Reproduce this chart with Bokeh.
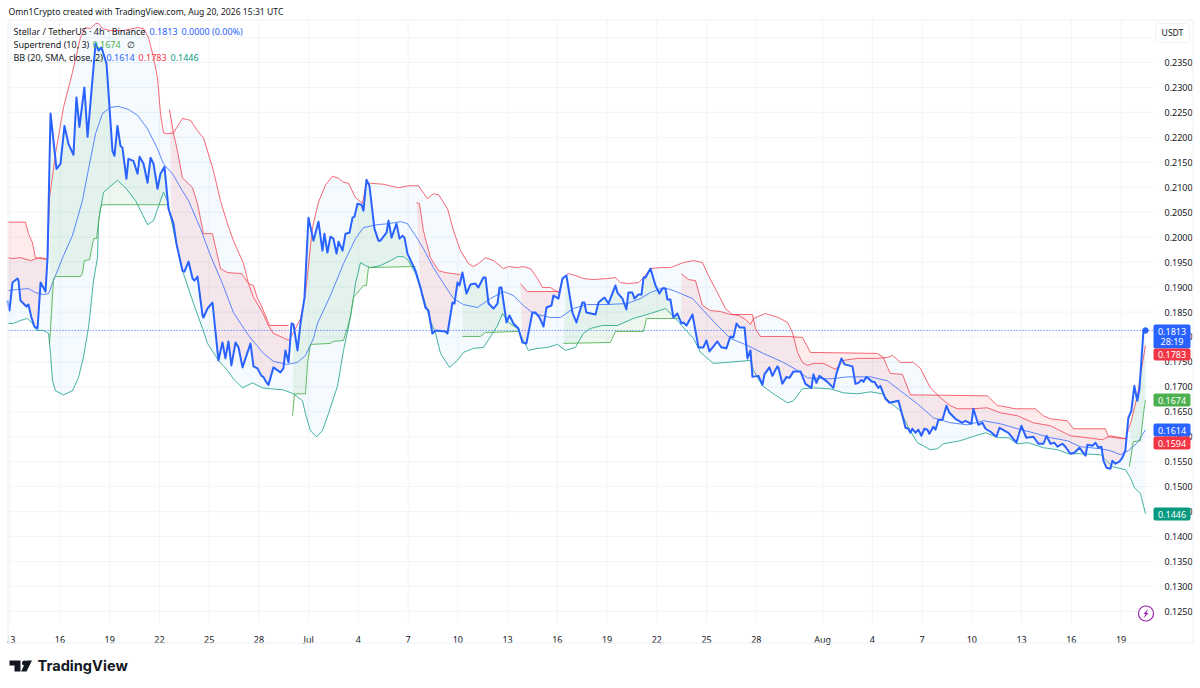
from bokeh.plotting import figure
from bokeh.embed import file_html
from bokeh.resources import INLINE
from bokeh.models import Range1d, FixedTicker, NumeralTickFormatter, Label, BoxAnnotation, PolyAnnotation

# time axis: days since 13 Jun; price in USDT
tick_days = [0, 3, 6, 9, 12, 15, 18, 21, 24, 27, 30, 33, 36, 39, 42, 45, 49, 52, 55, 58, 61, 64, 67]
x_labels = ["13", "16", "19", "22", "25", "28", "Jul", "4", "7", "10", "13", "16", "19", "22", "25", "28",
            "Aug", "4", "7", "10", "13", "16", "19"]
y_ticks = [0.125, 0.13, 0.135, 0.14, 0.145, 0.15, 0.155, 0.16, 0.165, 0.17, 0.175, 0.18, 0.185, 0.19, 0.195,
           0.2, 0.205, 0.21, 0.215, 0.22, 0.225, 0.23, 0.235, 0.24]

price_d = [-0.18,-0.06,0.12,0.42,0.48,0.60,0.78,0.96,1.08,1.26,1.44,1.63,1.81,2.11,2.23,2.41,2.77,3.01,3.25,3.49,3.79,3.97,4.15,4.45,4.64,5.12,5.30,5.48,5.78,6.14,6.26,6.44,6.62,6.74,6.98,7.10,7.40,7.65,7.77,8.01,8.25,8.43,8.61,8.85,9.03,9.27,9.51,9.69,9.81,9.99,10.35,10.47,10.72,10.96,11.08,11.26,11.56,11.62,11.86,12.16,12.52,12.76,12.94,13.12,13.30,13.55,13.73,13.97,14.45,14.63,14.87,15.11,15.23,15.35,15.53,15.83,16.25,16.43,16.55,16.74,16.92,17.04,17.28,17.46,17.70,17.94,18.24,18.54,18.78,18.90,19.08,19.26,19.44,19.63,19.75,19.99,20.17,20.41,20.59,20.71,20.89,21.13,21.25,21.43,21.61,21.91,22.15,22.27,22.64,22.76,22.94,23.24,23.42,23.60,23.72,23.90,24.38,24.68,24.98,25.16,25.40,25.59,26.19,26.31,26.61,26.73,26.91,27.03,27.21,27.45,27.69,27.99,28.17,28.47,28.60,28.78,29.08,29.32,29.44,29.56,29.86,30.04,30.28,30.58,30.82,31.06,31.42,31.60,31.85,32.09,32.27,32.57,32.69,32.99,33.23,33.47,33.83,34.07,34.43,34.55,34.67,35.22,35.40,35.76,36.00,36.42,36.54,36.84,37.08,37.20,37.44,37.56,37.81,37.99,38.11,38.23,38.53,38.83,39.07,39.25,39.43,39.55,39.73,39.91,40.15,40.39,40.51,40.70,41.06,41.42,41.72,41.90,42.08,42.56,42.80,42.92,43.10,43.34,43.52,43.71,43.89,44.19,44.37,44.55,44.67,45.03,45.27,45.39,45.69,45.87,46.17,46.23,46.47,46.72,46.90,47.14,47.56,47.86,48.22,48.34,48.52,48.70,49.18,49.54,49.73,50.03,50.21,50.69,50.87,51.05,51.23,51.35,51.53,51.89,52.01,52.25,52.37,52.68,52.92,53.46,53.70,53.88,54.06,54.18,54.30,54.48,54.66,54.84,55.02,55.20,55.32,55.56,55.69,55.87,56.11,56.35,56.53,56.89,57.31,57.49,57.85,57.97,58.27,58.51,58.70,59.00,59.36,59.54,60.08,60.56,60.86,61.16,61.58,61.89,62.19,62.37,62.61,62.85,63.03,63.33,63.51,63.81,64.05,64.35,64.72,64.84,65.14,65.32,65.50,65.68,65.80,65.98,66.22,66.34,66.52,66.76,66.94,67.12,67.30,67.48,67.66,67.84,67.97,68.21,68.33]
price_v = [.1873,.1853,.1909,.1917,.1913,.1873,.1867,.1861,.1865,.1839,.1821,.1817,.1909,.1891,.1959,.2248,.2137,.2147,.2223,.2187,.2165,.2280,.2221,.2300,.2201,.2388,.2374,.2380,.2348,.2173,.2163,.2223,.2183,.2179,.2117,.2157,.2153,.2127,.2161,.2147,.2109,.2159,.2147,.2097,.2127,.2141,.2057,.2039,.2027,.1987,.1933,.1931,.1951,.1917,.1913,.1921,.1843,.1839,.1857,.1869,.1753,.1789,.1757,.1791,.1743,.1789,.1779,.1739,.1787,.1741,.1737,.1722,.1720,.1712,.1704,.1739,.1729,.1737,.1773,.1749,.1827,.1825,.1773,.1827,.1879,.2039,.1993,.2031,.1973,.2007,.1969,.2001,.1997,.1967,.1991,.1973,.2007,.2009,.2039,.2041,.2067,.2065,.2053,.2115,.2103,.2017,.1993,.1993,.2009,.2033,.1999,.2027,.1997,.2003,.1999,.1967,.1933,.1899,.1859,.1853,.1807,.1813,.1811,.1807,.1869,.1867,.1909,.1903,.1929,.1887,.1905,.1907,.1899,.1919,.1919,.1867,.1857,.1867,.1899,.1899,.1829,.1843,.1827,.1817,.1789,.1787,.1849,.1849,.1839,.1821,.1859,.1863,.1883,.1877,.1917,.1923,.1849,.1829,.1869,.1869,.1849,.1845,.1869,.1879,.1867,.1903,.1889,.1877,.1855,.1889,.1889,.1877,.1885,.1885,.1919,.1919,.1937,.1903,.1887,.1897,.1897,.1875,.1875,.1839,.1847,.1827,.1829,.1823,.1845,.1779,.1779,.1793,.1771,.1791,.1779,.1779,.1777,.1801,.1799,.1827,.1819,.1819,.1757,.1773,.1720,.1722,.1704,.1725,.1739,.1722,.1741,.1739,.1706,.1720,.1718,.1731,.1731,.1706,.1698,.1725,.1708,.1722,.1710,.1698,.1727,.1757,.1745,.1741,.1706,.1708,.1714,.1710,.1720,.1710,.1710,.1698,.1702,.1676,.1668,.1672,.1642,.1618,.1616,.1608,.1616,.1608,.1614,.1602,.1616,.1614,.1606,.1620,.1614,.1634,.1634,.1662,.1648,.1636,.1628,.1632,.1626,.1656,.1624,.1628,.1616,.1610,.1600,.1618,.1608,.1588,.1622,.1598,.1600,.1586,.1586,.1602,.1586,.1588,.1580,.1586,.1580,.1566,.1568,.1578,.1562,.1584,.1582,.1588,.1578,.1580,.1552,.1538,.1536,.1552,.1546,.1550,.1558,.1572,.1638,.1652,.1702,.1672,.1696,.1813,.1813]

upper_d = [-0.18,0.12,0.60,1.20,1.75,2.23,2.35,2.71,3.19,3.73,4.21,4.52,4.82,5.12,5.30,5.54,6.02,6.80,7.65,8.01,8.31,8.61,8.85,9.03,9.21,9.45,9.81,10.35,10.84,11.26,11.62,12.22,12.64,13.06,13.42,14.03,14.33,14.63,15.17,15.53,15.83,16.37,16.74,17.04,17.46,17.76,18.18,18.54,18.96,19.38,19.75,20.05,20.35,20.77,21.19,21.43,21.67,22.45,23.36,23.96,24.56,25.10,25.46,25.77,26.31,26.67,27.09,27.57,27.87,28.17,28.60,29.08,29.68,29.98,30.52,30.88,31.30,31.73,32.03,32.51,32.99,33.29,33.59,34.01,34.49,35.10,35.94,36.42,36.72,37.20,37.81,38.11,38.53,39.13,39.73,40.51,41.12,41.66,42.02,42.56,43.04,43.46,43.83,44.25,44.55,44.73,45.45,46.23,46.78,47.08,47.38,47.68,47.98,48.34,48.94,49.67,50.15,50.99,52.19,52.80,53.10,53.58,54.36,54.78,55.38,55.99,56.59,57.01,57.79,58.82,59.60,60.62,61.58,62.61,63.81,64.84,65.74,66.22,67.12,67.48,67.84,68.03,68.33]
upper_v = [.1959,.1957,.1959,.1953,.1959,.1957,.2079,.2167,.2260,.2330,.2400,.2420,.2418,.2428,.2428,.2418,.2414,.2414,.2420,.2418,.2400,.2360,.2320,.2248,.2209,.2207,.2209,.2238,.2234,.2213,.2199,.2133,.2073,.2027,.1993,.1947,.1907,.1879,.1849,.1823,.1807,.1799,.1793,.1809,.1837,.1887,.2019,.2070,.2104,.2122,.2118,.2110,.2108,.2079,.2068,.2108,.2108,.2106,.2099,.2103,.2103,.2077,.2087,.2085,.2057,.2013,.1973,.1947,.1941,.1947,.1959,.1953,.1937,.1941,.1939,.1941,.1937,.1917,.1899,.1899,.1889,.1919,.1927,.1923,.1917,.1915,.1917,.1919,.1909,.1907,.1909,.1919,.1937,.1939,.1939,.1949,.1953,.1949,.1923,.1889,.1857,.1845,.1843,.1835,.1825,.1837,.1847,.1839,.1829,.1809,.1769,.1749,.1743,.1747,.1747,.1735,.1753,.1757,.1757,.1759,.1763,.1749,.1749,.1737,.1698,.1678,.1662,.1656,.1656,.1658,.1648,.1642,.1628,.1622,.1602,.1598,.1594,.1602,.1596,.1632,.1682,.1722,.1783]

lower_d = [-0.18,0.18,0.60,1.02,1.32,1.56,1.99,2.29,2.41,2.53,2.71,3.19,3.73,4.09,4.39,4.70,5.00,5.24,5.30,5.60,6.44,6.92,7.53,7.83,8.25,8.61,9.03,9.21,9.45,9.81,10.35,11.02,11.56,11.86,12.52,13.06,13.42,13.97,14.57,15.17,15.65,16.43,17.04,17.58,17.76,18.06,18.42,18.78,19.14,19.69,20.05,20.47,20.77,21.07,21.37,21.67,22.27,22.88,23.30,23.66,23.96,24.38,24.86,25.28,25.59,25.89,26.43,26.91,27.27,27.87,28.47,29.02,29.32,29.62,29.98,30.52,30.88,31.18,31.73,32.33,32.93,33.41,34.01,34.49,34.92,35.64,36.54,37.50,38.53,39.43,40.03,40.51,41.12,41.54,42.32,43.16,44.55,44.73,45.27,45.93,46.78,47.14,47.68,48.34,49.36,50.15,50.99,51.77,52.49,52.98,53.58,54.06,54.60,55.38,55.81,56.17,57.19,58.09,58.70,59.48,60.08,60.62,61.28,62.19,63.03,63.69,64.41,65.62,65.80,66.34,67.12,67.42,67.66,68.03,68.33]
lower_v = [.1827,.1827,.1833,.1837,.1827,.1813,.1813,.1807,.1767,.1712,.1692,.1684,.1692,.1718,.1759,.1819,.1913,.1959,.2033,.2090,.2114,.2099,.2073,.2053,.2025,.2033,.2073,.2090,.2073,.2013,.1933,.1867,.1817,.1787,.1753,.1733,.1716,.1698,.1708,.1698,.1696,.1694,.1686,.1672,.1646,.1612,.1600,.1612,.1646,.1702,.1773,.1839,.1907,.1949,.1943,.1939,.1943,.1953,.1961,.1961,.1953,.1927,.1879,.1833,.1807,.1767,.1739,.1753,.1769,.1777,.1779,.1807,.1823,.1847,.1829,.1817,.1793,.1773,.1777,.1779,.1785,.1773,.1779,.1807,.1817,.1823,.1823,.1837,.1847,.1857,.1837,.1819,.1797,.1769,.1747,.1749,.1753,.1733,.1702,.1686,.1668,.1672,.1696,.1698,.1696,.1688,.1686,.1690,.1686,.1668,.1652,.1618,.1588,.1574,.1576,.1586,.1592,.1602,.1608,.1598,.1598,.1586,.1588,.1578,.1574,.1566,.1566,.1564,.1558,.1540,.1534,.1518,.1498,.1486,.1446]

basis_d = [-0.18,0.42,1.08,1.50,1.99,2.29,2.71,3.19,3.73,4.33,4.64,5.12,5.54,6.02,6.50,7.10,7.65,8.25,8.85,9.21,9.75,10.35,10.72,11.44,12.04,12.76,13.42,14.33,15.23,15.83,16.68,17.28,17.76,18.24,18.48,19.26,20.05,20.77,21.25,22.09,22.76,23.48,23.90,24.38,24.86,25.46,26.07,26.67,27.27,28.11,28.90,29.68,30.28,30.88,31.48,32.51,33.11,33.89,34.73,35.94,37.14,37.93,38.53,39.31,39.91,41.06,41.72,42.56,43.34,44.37,45.33,46.53,47.38,47.98,49.36,50.39,51.77,52.80,53.58,54.60,55.56,56.59,57.61,58.58,59.60,60.62,61.58,62.61,63.63,64.41,65.62,66.22,66.82,67.30,67.84,68.33]
basis_v = [.1893,.1895,.1897,.1889,.1885,.1887,.1923,.1963,.2003,.2073,.2127,.2207,.2248,.2260,.2262,.2256,.2244,.2217,.2177,.2147,.2127,.2093,.2073,.2017,.1963,.1907,.1849,.1803,.1767,.1751,.1745,.1749,.1763,.1797,.1827,.1883,.1947,.1997,.2019,.2025,.2027,.2031,.2027,.2003,.1977,.1939,.1907,.1877,.1865,.1859,.1877,.1891,.1883,.1863,.1847,.1839,.1839,.1857,.1865,.1865,.1867,.1877,.1889,.1899,.1893,.1877,.1853,.1823,.1797,.1783,.1767,.1749,.1733,.1718,.1716,.1720,.1720,.1712,.1692,.1666,.1638,.1628,.1624,.1632,.1626,.1616,.1608,.1598,.1592,.1580,.1576,.1572,.1564,.1572,.1588,.1614]

down1_d = [-0.18,0.90,1.08,1.32,1.50,2.17]
down1_v = [.2030,.2030,.2007,.1989,.1959,.1955]
down2_d = [9.57,9.81,10.05,10.35,10.96,11.26,11.62,12.16,12.64,13.06,13.91,14.33,14.63,14.87,15.05,15.47,15.59,16.74]
down2_v = [.2256,.2209,.2173,.2119,.2099,.2067,.2007,.2007,.1937,.1929,.1927,.1907,.1903,.1877,.1867,.1833,.1823,.1823]
down3_d = [24.44,24.62,24.86,25.28,25.77,26.19,27.09]
down3_v = [.2069,.2067,.2013,.1959,.1933,.1929,.1925]
down4_d = [30.70,31.12,32.99]
down4_v = [.1907,.1891,.1891]
down5_d = [40.39,40.82,41.24,41.66,42.14,42.74,43.34,44.67,44.85,45.15,46.78,47.68,48.16,52.19,52.55,52.80,52.98,53.70,54.18,58.82,59.42,59.60,60.50,61.70,62.19,62.61,63.63,63.99,65.92,66.10,66.52,67.12]
down5_v = [.1927,.1915,.1913,.1863,.1853,.1851,.1845,.1845,.1817,.1801,.1801,.1799,.1769,.1767,.1759,.1739,.1727,.1725,.1684,.1682,.1662,.1662,.1656,.1656,.1642,.1636,.1632,.1616,.1616,.1600,.1598,.1596]

up1_d = [2.35,2.47,2.59,2.71,4.21,4.33,4.45,4.76,5.00,5.18,5.42,5.54,9.51]
up1_v = [.1787,.1847,.1917,.1921,.1921,.1927,.1953,.1955,.1997,.1997,.2059,.2065,.2065]
up2_d = [16.98,17.10,17.76,17.88,18.06,19.26,19.44,20.05,20.29,20.47,20.65,21.25,21.43,21.55,24.08,24.38]
up2_v = [.1642,.1686,.1686,.1747,.1785,.1787,.1791,.1793,.1819,.1843,.1879,.1903,.1903,.1939,.1941,.1941]
up3_d = [27.21,28.29,28.60,30.58]
up3_v = [.1801,.1801,.1809,.1811]
up4_d = [33.29,36.12,36.42,38.11,38.29,39.91,40.33]
up4_v = [.1787,.1789,.1811,.1811,.1837,.1837,.1837]
up5_d = [67.36,67.60,68.03,68.21,68.33]
up5_v = [.1540,.1590,.1592,.1646,.1674]

down_segments = [(down1_d, down1_v), (down2_d, down2_v), (down3_d, down3_v), (down4_d, down4_v), (down5_d, down5_v)]
up_segments = [(up1_d, up1_v), (up2_d, up2_v), (up3_d, up3_v), (up4_d, up4_v), (up5_d, up5_v)]

last_price, last_countdown = "0.1813", "28:19"

BLUE, RED, GREEN, TEAL, INK = "#2962ff", "#f23645", "#4caf50", "#089981", "#131722"
FONT = "Noto Sans"

# The plotting frame fills the canvas so that the price tags, header and logo can lie around the chart;
# the axes are pinned to the edges of the chart pane inside it.
X_LO, X_HI = -0.602, 71.403
Y_LO, Y_HI = 0.110351, 0.247425
PANE_L, PANE_R, PANE_T, PANE_B = -0.114, 68.754, 0.24362, 0.12278

p = figure(width=1196, height=684, output_backend="svg", toolbar_location=None,
           x_range=Range1d(X_LO, X_HI), y_range=Range1d(Y_LO, Y_HI),
           y_axis_location="right", min_border_left=0, min_border_right=0,
           min_border_top=0, min_border_bottom=0, outline_line_color=None,
           background_fill_color="white", border_fill_color="white")

x_ticks = [(t * 16.58 - 0.3) / 16.61 for t in tick_days]  # tick spacing
p.xaxis.ticker = FixedTicker(ticks=x_ticks)
p.xaxis.major_label_overrides = dict(zip(x_ticks, x_labels))
p.yaxis.ticker = FixedTicker(ticks=y_ticks)
p.yaxis.formatter = NumeralTickFormatter(format="0.0000")
p.yaxis.major_label_overrides = {0.24: ""}
p.xaxis.fixed_location = PANE_B
p.yaxis.fixed_location = PANE_R
for ax in (p.xaxis[0], p.yaxis[0]):
    ax.axis_line_color = None
    ax.major_tick_line_color = None
    ax.minor_tick_line_color = None
    ax.major_label_text_color = INK
    ax.major_label_text_font = FONT
    ax.major_label_text_font_size = "9px"
p.yaxis.major_label_standoff = 6
p.xaxis.major_label_standoff = 5
p.grid.visible = False

GRID = "#f2f4f8"
p.segment(x_ticks, PANE_B, x_ticks, PANE_T, line_color=GRID, line_width=1)
p.segment(PANE_L, y_ticks, PANE_R, y_ticks, line_color=GRID, line_width=1)


def ring(top_d, top_v):
    """Polygon between a supertrend segment and the price over the same days."""
    lo, hi = top_d[0], top_d[-1]
    pts = [(d, v) for d, v in zip(price_d, price_v) if lo <= d <= hi]
    return top_d + [d for d, _ in reversed(pts)], top_v + [v for _, v in reversed(pts)]


p.patch(upper_d + lower_d[::-1], upper_v + lower_v[::-1], fill_color="#2196f3", fill_alpha=0.05, line_color=None)
for d, v in down_segments:
    xs, ys = ring(d, v)
    p.patch(xs, ys, fill_color=RED, fill_alpha=0.10, line_color=None)
for d, v in up_segments:
    xs, ys = ring(d, v)
    p.patch(xs, ys, fill_color=GREEN, fill_alpha=0.10, line_color=None)

p.line([PANE_L, PANE_R], [float(last_price)] * 2, line_color=BLUE, line_dash="1 2", line_width=1)

p.line(upper_d, upper_v, line_color=RED, line_width=1, line_alpha=0.75)
p.line(lower_d, lower_v, line_color=TEAL, line_width=1, line_alpha=0.75)
p.line(basis_d, basis_v, line_color=BLUE, line_width=1, line_alpha=0.75)
for d, v in down_segments:
    p.line(d, v, line_color=RED, line_width=1, line_alpha=0.75)
for d, v in up_segments:
    p.line(d, v, line_color=GREEN, line_width=1, line_alpha=0.85)
p.line(price_d, price_v, line_color=BLUE, line_width=2, line_join="round")
p.scatter(price_d[-1:], price_v[-1:], size=5.5, color=BLUE)


def txt(x, y, s, color=INK, size=9, font=FONT, align="left", style="normal"):
    p.add_layout(Label(x=x, y=y, x_units="canvas", y_units="canvas", text=s, text_color=color,
                       text_font=font, text_font_size=f"{size}px", text_align=align, text_baseline="middle",
                       text_font_style=style))


def box(l, t, r, b, fill=None, line=None, radius=0, width=1):
    p.add_layout(BoxAnnotation(left=l, right=r, top=t, bottom=b,
                               left_units="canvas", right_units="canvas", top_units="canvas", bottom_units="canvas",
                               fill_color=fill, fill_alpha=1 if fill else 0, line_color=line,
                               line_alpha=1 if line else 0, line_width=width, border_radius=radius))


def poly(pts, color):
    p.add_layout(PolyAnnotation(xs=[a for a, _ in pts], ys=[b for _, b in pts],
                                xs_units="canvas", ys_units="canvas", fill_color=color, fill_alpha=1,
                                line_color=None))


# hides the left half of the first date, as the pane edge does
box(0, 623, 8, 641, fill="white")
# outer frame
box(7.5, 19.5, 1192.5, 642.5, line="#eef0f5")

# header and legends
txt(8, 11, "Omn1Crypto created with TradingView.com, Aug 20, 2026 15:31 UTC", size=8.6)
txt(13, 31, "Stellar / TetherUS · 4h · Binance")
txt(149, 31, "0.1813", BLUE)
txt(181, 31, "0.0000 (0.00%)", BLUE)
txt(13, 44, "Supertrend (10, 3)")
txt(92, 44, "0.1674", GREEN)
txt(126, 44, "∅")
txt(13, 57, "BB (20, SMA, close, 2)")
txt(106, 57, "0.1614", BLUE)
txt(138, 57, "0.1783", RED)
txt(170, 57, "0.1446", TEAL)

# currency box
box(1155, 23, 1189, 42, fill="white", line="#f0f2f6", radius=3)
txt(1172, 32.5, "USDT", size=8.6, align="center")

# price tags
box(1153, 324, 1190, 348, fill=BLUE, radius=2)
txt(1171.5, 330.5, last_price, "white", 9, align="center")
txt(1171.5, 341, last_countdown, "white", 9, align="center")
for top, bot, label, col in [(348, 360, "0.1783", RED), (393, 406, "0.1674", GREEN), (423, 436, "0.1614", BLUE),
                             (436, 449, "0.1594", RED), (507, 520, "0.1446", TEAL)]:
    box(1153, top, 1190, bot, fill=col, radius=2)
    txt(1171.5, (top + bot) / 2, label, "white", 9, align="center")

# lightning badge
box(1138, 605.5, 1153, 620.5, fill="white", line="#9c27b0", radius=8, width=1.2)
poly([(1147.5, 608.5), (1143, 613.5), (1145, 613.5), (1143, 618), (1148, 612.5), (1146, 612.5)], "#9c27b0")

# TradingView logo
poly([(9, 660), (20, 660), (20, 671), (14, 671), (14, 665), (9, 665)], INK)
box(21.5, 660, 26.5, 665, fill=INK, radius=3)
poly([(26, 660), (31.5, 660), (26, 671), (20.5, 671)], INK)
txt(37, 665.5, "TradingView", INK, 14.6, font="Inter", style="bold")

open("out.html", "w").write(file_html(p, INLINE))
